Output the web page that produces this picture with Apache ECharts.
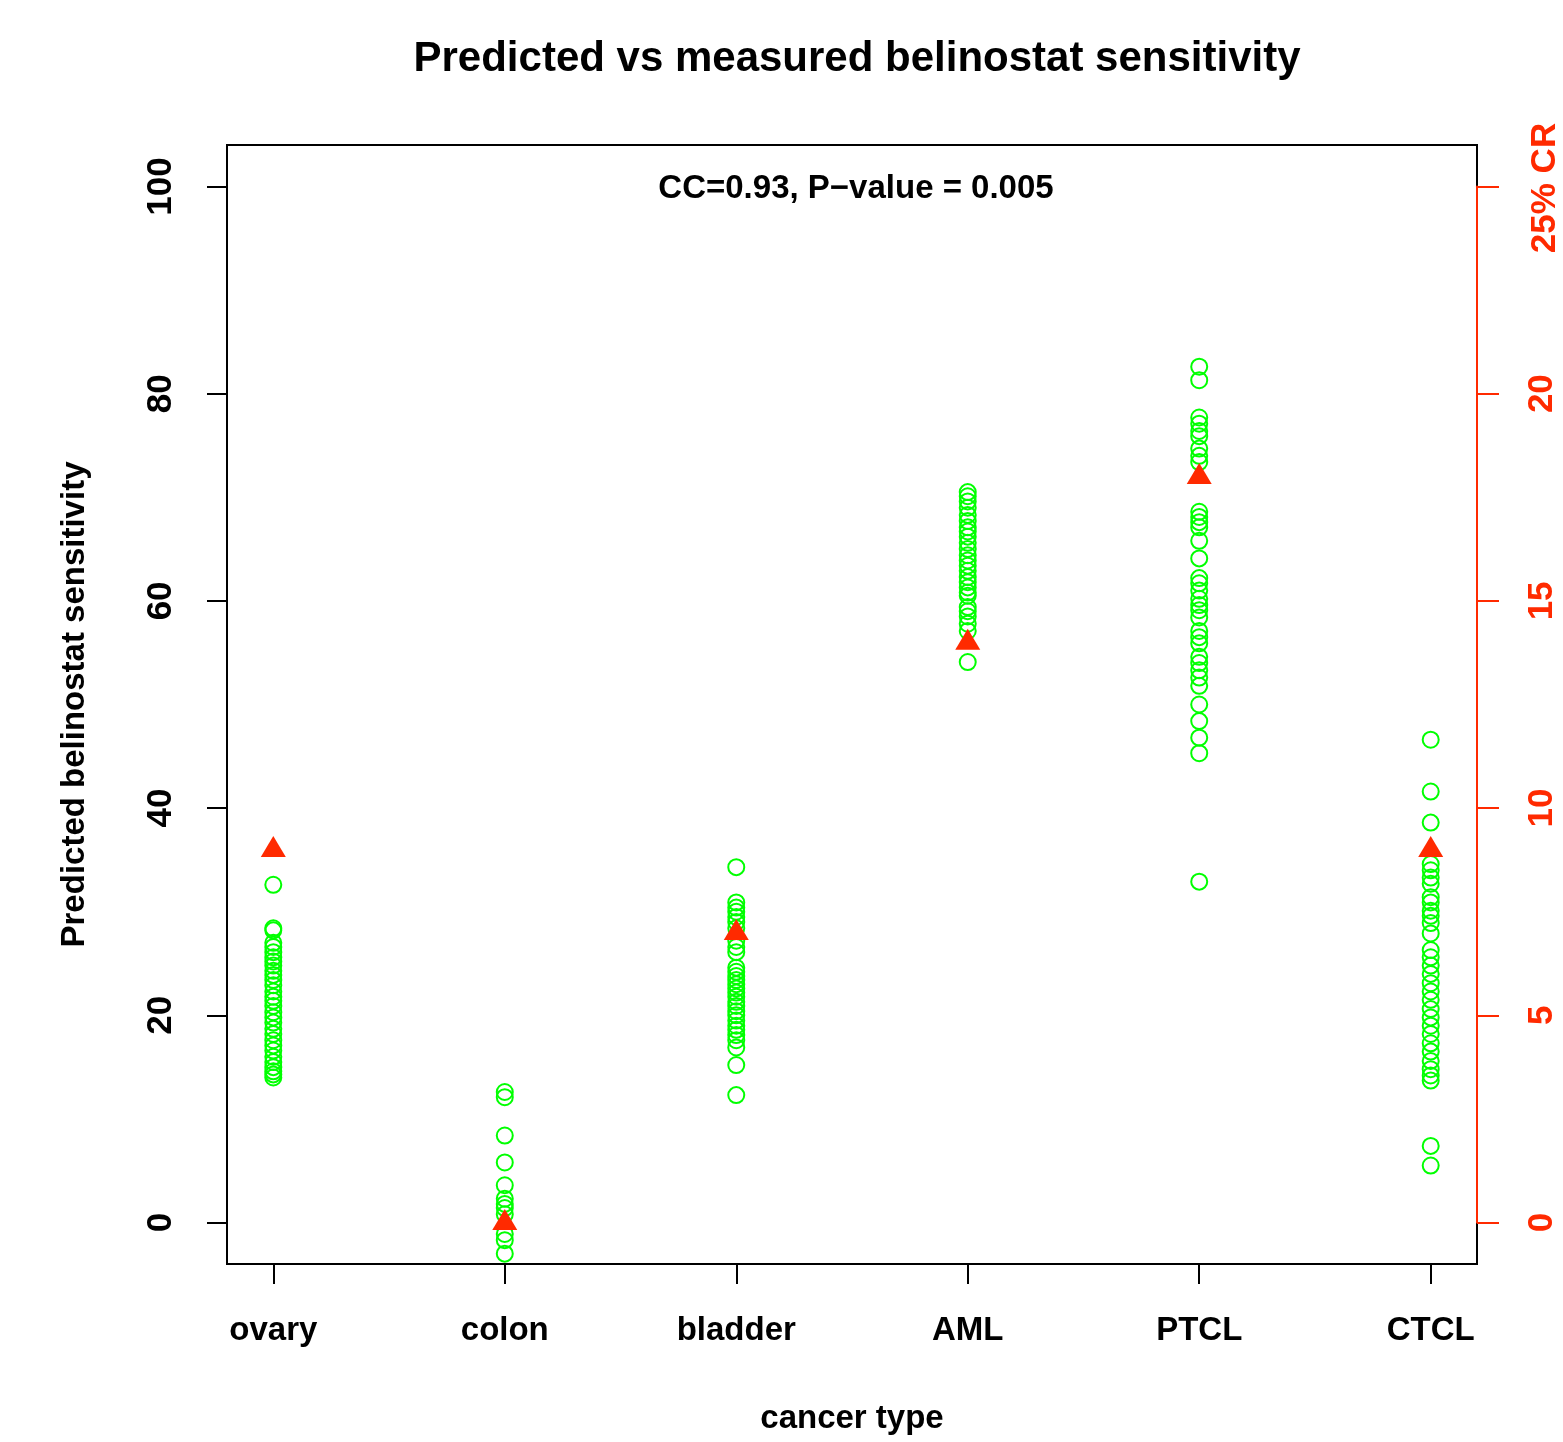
<!DOCTYPE html>
<html><head><meta charset="utf-8">
<script src="https://cdn.jsdelivr.net/npm/echarts@6/dist/echarts.min.js"></script>
<style>html,body{margin:0;padding:0;background:#fff}#c{width:1563px;height:1442px}</style>
</head><body><div id="c"></div>
<script>
const categories = ['ovary', 'colon', 'bladder', 'AML', 'PTCL', 'CTCL'];
const categoryPositions = [1, 2, 3, 4, 5, 6];
const ovary = [32.6, 28.4, 28.2, 27.0, 26.6, 26.1, 25.6, 25.2, 24.8, 24.3, 23.9, 23.4, 22.9, 22.3, 21.8, 21.4, 20.9, 20.3, 19.8, 19.3, 18.7, 18.2, 17.6, 17.1, 16.6, 16.0, 15.5, 15.0, 14.6, 14.3, 14.0];
const colon = [12.6, 12.1, 8.4, 5.8, 3.6, 2.3, 1.8, 1.4, 0.8, -1.1, -1.7, -3.0];
const bladder = [34.3, 30.9, 30.4, 30.0, 29.5, 29.0, 28.4, 27.2, 26.6, 26.1, 24.6, 24.2, 23.8, 23.4, 23.0, 22.6, 22.2, 21.8, 21.3, 20.9, 20.4, 20.0, 19.5, 19.0, 18.6, 18.1, 17.6, 16.9, 15.2, 12.3];
const aml = [70.5, 70.1, 69.6, 69.0, 68.3, 67.7, 67.1, 66.7, 66.2, 65.6, 65.0, 64.4, 63.9, 63.4, 62.9, 62.3, 61.8, 61.3, 60.8, 60.5, 59.4, 59.0, 58.5, 57.8, 57.1, 54.1];
const ptcl = [82.6, 81.3, 77.7, 77.1, 76.4, 75.9, 74.7, 74.0, 73.4, 68.6, 68.1, 67.6, 67.1, 65.8, 64.1, 62.2, 61.7, 61.0, 60.2, 59.6, 59.1, 58.4, 57.1, 56.5, 55.9, 54.6, 54.0, 53.3, 52.6, 51.8, 50.0, 48.4, 46.8, 45.3, 32.9];
const ctcl = [46.6, 41.6, 38.6, 34.6, 34.0, 33.3, 32.7, 31.4, 30.9, 30.1, 29.6, 28.9, 27.9, 26.3, 25.6, 24.8, 24.0, 23.1, 22.3, 21.5, 20.6, 19.8, 19.0, 18.2, 17.3, 16.5, 15.6, 14.8, 14.2, 13.7, 7.4, 5.5];
const crPercent = [9, 0, 7, 14, 18, 9];
const leftTicks = [0, 20, 40, 60, 80, 100];
const rightTicks = [0, 5, 10, 15, 20, 25];
const rightLabels = [0, 5, 10, 15, 20];

const groups = [ovary, colon, bladder, aml, ptcl, ctcl];
const GREEN = '#00ff00';
const RED = '#ff2a00';
const SANS = "'Liberation Sans', Arial, sans-serif";

const predicted = [];
groups.forEach((g, i) => g.forEach(v => predicted.push([categoryPositions[i], v])));
const measured = crPercent.map((v, i) => [categoryPositions[i], v]);

const chart = echarts.init(document.getElementById('c'), null, {renderer: 'canvas'});
chart.setOption({
  animation: false,
  backgroundColor: '#fff',
  title: [
    {text: 'Predicted vs measured belinostat sensitivity', left: 852, top: 33, textAlign: 'center',
     textStyle: {fontFamily: SANS, fontWeight: 'bold', fontSize: 42, color: '#000'}},
    {text: 'CC=0.93, P\u2212value = 0.005', left: 851, top: 167, textAlign: 'center',
     textStyle: {fontFamily: SANS, fontWeight: 'bold', fontSize: 33, color: '#000'}}
  ],
  grid: [
    {left: 227, top: 145, width: 1250, height: 1119, show: true, borderColor: '#000', borderWidth: 2, backgroundColor: 'transparent'},
    {left: 227, top: 186.4, width: 1250, height: 1036.2, show: false}
  ],
  xAxis: [
    {type: 'value', gridIndex: 0, min: 0.8, max: 6.2,
     name: 'cancer type', nameLocation: 'middle', nameGap: 138,
     nameTextStyle: {fontFamily: SANS, fontWeight: 'bold', fontSize: 33, color: '#000'},
     axisLine: {show: false, onZero: false},
     splitLine: {show: false},
     axisTick: {show: true, customValues: categoryPositions, length: 20, lineStyle: {color: '#000', width: 2}},
     axisLabel: {customValues: categoryPositions, margin: 50, fontFamily: SANS, fontWeight: 'bold', fontSize: 33, color: '#000',
       formatter: v => categories[categoryPositions.indexOf(v)]}},
    {type: 'value', gridIndex: 1, min: 0.8, max: 6.2, show: false}
  ],
  yAxis: [
    {type: 'value', gridIndex: 0, min: -4, max: 104, position: 'left',
     name: 'Predicted belinostat sensitivity', nameLocation: 'middle', nameGap: 136, nameRotate: 90,
     nameTextStyle: {fontFamily: SANS, fontWeight: 'bold', fontSize: 33, color: '#000'},
     axisLine: {show: false, onZero: false},
     splitLine: {show: false},
     axisTick: {show: true, customValues: leftTicks, length: 20, lineStyle: {color: '#000', width: 2}},
     axisLabel: {customValues: leftTicks, rotate: 90, margin: 48, fontFamily: SANS, fontWeight: 'bold', fontSize: 35, color: '#000'}},
    {type: 'value', gridIndex: 1, min: 0, max: 25, position: 'right', z: 5,
     axisLine: {show: true, onZero: false, lineStyle: {color: RED, width: 2}},
     splitLine: {show: false},
     axisTick: {show: true, customValues: rightTicks, length: 22, lineStyle: {color: RED, width: 2}},
     axisLabel: {customValues: rightLabels, rotate: 90, margin: 48, fontFamily: SANS, fontWeight: 'bold', fontSize: 35, color: RED}}
  ],
  graphic: [
    {type: 'text', x: 1545, y: 188, rotation: Math.PI / 2,
     style: {text: '25% CR', fill: RED, font: "bold 35px 'Liberation Sans', Arial", textAlign: 'center', textVerticalAlign: 'middle'}}
  ],
  series: [
    {type: 'scatter', name: 'predicted', xAxisIndex: 0, yAxisIndex: 0, data: predicted, symbol: 'circle', symbolSize: 16,
     itemStyle: {color: 'rgba(0,0,0,0)', borderColor: GREEN, borderWidth: 2, opacity: 1}, z: 2},
    {type: 'scatter', name: '25% CR', xAxisIndex: 1, yAxisIndex: 1, data: measured, symbol: 'triangle', symbolSize: [25, 21], symbolOffset: [0, -3],
     clip: false, itemStyle: {color: RED, opacity: 1}, z: 3}
  ]
});
</script></body></html>
